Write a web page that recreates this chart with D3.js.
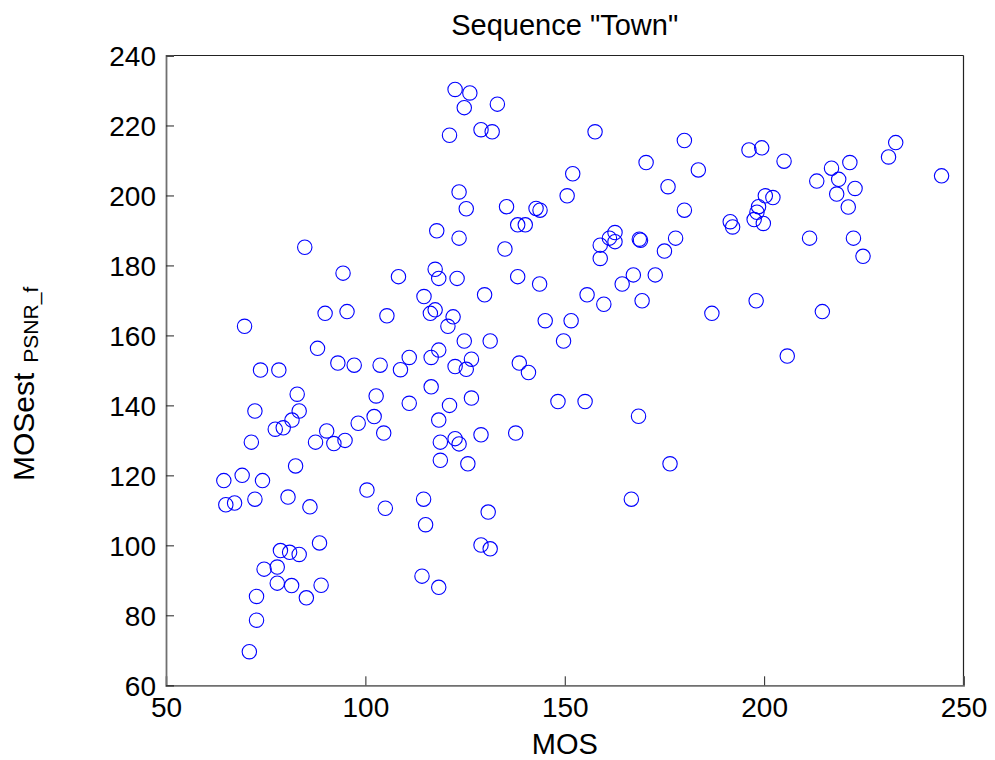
<!DOCTYPE html>
<html>
<head>
<meta charset="utf-8">
<script src="https://cdn.jsdelivr.net/npm/d3@7"></script>
<style>
  html, body { margin: 0; padding: 0; background: #fff; }
  svg { display: block; }
  text { font-family: "Liberation Sans", Arial, Helvetica, sans-serif; fill: #000; }
</style>
</head>
<body>
<svg id="chart" width="995" height="760"></svg>
<script>
const titleText = 'Sequence "Town"';
const xLabel = "MOS";
const yLabelMain = "MOSest";
const yLabelSub = "PSNR_f";
const xTicks = [50, 100, 150, 200, 250];
const yTicks = [60, 80, 100, 120, 140, 160, 180, 200, 220, 240];

const mos = [
  84.8, 94.4, 108.3, 114.7, 89.9, 95.4, 105.4, 69.7, 88.0, 93.1,
  97.2, 103.7, 108.8, 111.0, 116.5, 73.7, 78.3, 116.3, 122.5, 126.2,
  124.8, 133.1, 121.1, 129.0, 131.8, 157.6, 180.0, 170.4, 152.0, 150.6,
  175.9, 183.5, 180.0, 123.5, 125.3, 135.4, 142.8, 143.8, 138.2, 140.1,
  117.9, 123.5, 135.0, 158.9, 158.9, 161.2, 162.6, 162.6, 168.7, 169.0,
  177.8, 175.0, 117.5, 118.4, 123.0, 138.2, 143.7, 167.2, 164.4, 172.7,
  129.9, 155.6, 159.8, 169.4, 117.5, 122.0, 120.7, 145.1, 151.6, 124.8,
  131.3, 149.7, 118.4, 126.6, 122.5, 125.3, 138.6, 140.9, 196.2, 199.4,
  205.0, 213.2, 216.9, 221.5, 218.7, 222.8, 218.2, 221.1, 231.2, 233.0,
  244.5, 200.3, 202.2, 198.6, 198.2, 197.5, 199.8, 191.5, 192.1, 211.4,
  222.4, 224.8, 186.9, 198.0, 214.6, 205.8, 116.5, 82.9, 102.7, 111.0,
  72.3, 83.4, 81.6, 79.4, 77.4, 98.2, 102.2, 90.3, 104.6, 87.5,
  92.1, 94.9, 71.4, 82.5, 64.5, 69.1, 74.2, 65.0, 67.2, 72.3,
  80.6, 86.1, 100.4, 105.0, 114.6, 115.1, 88.5, 78.7, 81.0, 83.4,
  74.6, 77.9, 77.9, 81.5, 88.9, 85.2, 72.7, 72.7, 70.9, 114.2,
  126.6, 121.1, 148.3, 155.1, 168.5, 118.4, 118.8, 122.5, 123.5, 129.0,
  137.7, 118.8, 125.7, 176.4, 166.7, 130.8, 129.0, 131.3, 118.4
];
const mosEst = [
  185.2, 177.8, 176.8, 171.1, 166.3, 166.8, 165.6, 162.6, 156.3, 152.1,
  151.5, 151.5, 150.2, 153.7, 153.7, 150.1, 150.1, 166.3, 230.3, 229.3,
  225.1, 226.1, 217.2, 218.8, 218.2, 218.2, 215.7, 209.4, 206.2, 199.9,
  202.5, 207.3, 195.8, 201.0, 196.2, 196.8, 196.3, 195.8, 191.6, 191.6,
  189.9, 187.8, 184.7, 185.8, 182.0, 187.8, 189.4, 186.8, 187.5, 187.2,
  187.8, 184.1, 178.9, 176.3, 176.3, 176.8, 174.7, 177.3, 174.7, 177.3,
  171.6, 171.6, 168.9, 169.9, 167.3, 165.3, 162.6, 164.2, 164.2, 158.4,
  158.4, 158.4, 155.8, 153.2, 151.1, 150.3, 152.1, 149.4, 213.0, 213.6,
  209.8, 204.1, 207.8, 209.4, 204.6, 202.0, 200.4, 196.7, 211.0, 215.1,
  205.6, 199.9, 199.4, 196.8, 195.2, 193.1, 192.0, 192.5, 191.0, 187.8,
  187.8, 182.6, 166.3, 169.9, 166.8, 154.1, 145.3, 143.2, 142.7, 140.6,
  138.4, 138.4, 135.8, 133.6, 133.2, 134.9, 136.8, 132.7, 132.1, 129.5,
  129.1, 130.0, 129.5, 122.7, 118.5, 120.0, 118.5, 111.6, 112.1, 113.2,
  113.8, 111.0, 115.8, 110.6, 113.2, 105.9, 100.7, 98.5, 98.0, 97.4,
  93.2, 93.8, 89.2, 88.5, 88.6, 85.0, 85.4, 78.6, 69.6, 91.2,
  142.1, 140.0, 141.1, 141.1, 136.9, 135.8, 129.5, 130.5, 129.0, 131.6,
  132.1, 124.3, 123.3, 123.3, 113.2, 109.5, 100.1, 99.0, 88.0
];

(function () {
const points = mos.map((m, i) => ({ x: m, y: mosEst[i] }));

const svg = d3.select("#chart");
const pLeft = 166, pRight = 963.5, pTop = 55.5, pBottom = 685.3;

const x = d3.scaleLinear().domain([50, 250]).range([pLeft, pRight]);
const y = d3.scaleLinear().domain([60, 240]).range([pBottom, pTop]);

// points
svg.append("g").selectAll("circle").data(points).join("circle")
  .attr("cx", d => x(d.x)).attr("cy", d => y(d.y))
  .attr("r", 7.2)
  .attr("fill", "none")
  .attr("stroke", "#0000ff")
  .attr("stroke-width", 1.1);

// box: top and right
svg.append("line").attr("x1", pLeft).attr("x2", pRight).attr("y1", pTop).attr("y2", pTop)
  .attr("stroke", "#222").attr("stroke-width", 1.2);
svg.append("line").attr("x1", pRight).attr("x2", pRight).attr("y1", pTop).attr("y2", pBottom)
  .attr("stroke", "#222").attr("stroke-width", 1.2);

// bottom axis
const xAxis = d3.axisBottom(x).tickValues(xTicks).tickSize(-9).tickPadding(12)
  .tickFormat(d3.format("d"));
const gx = svg.append("g").attr("transform", `translate(0,${pBottom})`).call(xAxis);
gx.select(".domain").attr("stroke", "#707070").attr("stroke-width", 1.8);
gx.selectAll(".tick line").attr("stroke", "#222").attr("stroke-width", 1);
gx.selectAll(".tick text").attr("font-size", 28).attr("y", 12).attr("dy", "0.71em")
  .attr("font-family", "Liberation Sans, Arial, sans-serif").attr("fill", "#000");

// left axis
const yAxis = d3.axisLeft(y).tickValues(yTicks).tickSize(-8).tickPadding(10)
  .tickFormat(d3.format("d"));
const gy = svg.append("g").attr("transform", `translate(${pLeft},0)`).call(yAxis);
gy.select(".domain").attr("stroke", "#707070").attr("stroke-width", 1.8);
gy.selectAll(".tick line").attr("stroke", "#222").attr("stroke-width", 1);
gy.selectAll(".tick text").attr("font-size", 28).attr("dy", "0.36em")
  .attr("font-family", "Liberation Sans, Arial, sans-serif").attr("fill", "#000");

// title
svg.append("text").attr("x", (pLeft + pRight) / 2).attr("y", 35)
  .attr("text-anchor", "middle").attr("font-size", 29).text(titleText);

// x label
svg.append("text").attr("x", (pLeft + pRight) / 2).attr("y", 754)
  .attr("text-anchor", "middle").attr("font-size", 29).text(xLabel);

// y label with subscript
const yl = svg.append("text")
  .attr("transform", "translate(34,481) rotate(-90)")
  .attr("text-anchor", "start").attr("font-size", 30);
yl.append("tspan").text(yLabelMain);
yl.append("tspan").attr("font-size", 21).attr("dx", 10).attr("dy", 4).text(yLabelSub);
})();
</script>
</body>
</html>
